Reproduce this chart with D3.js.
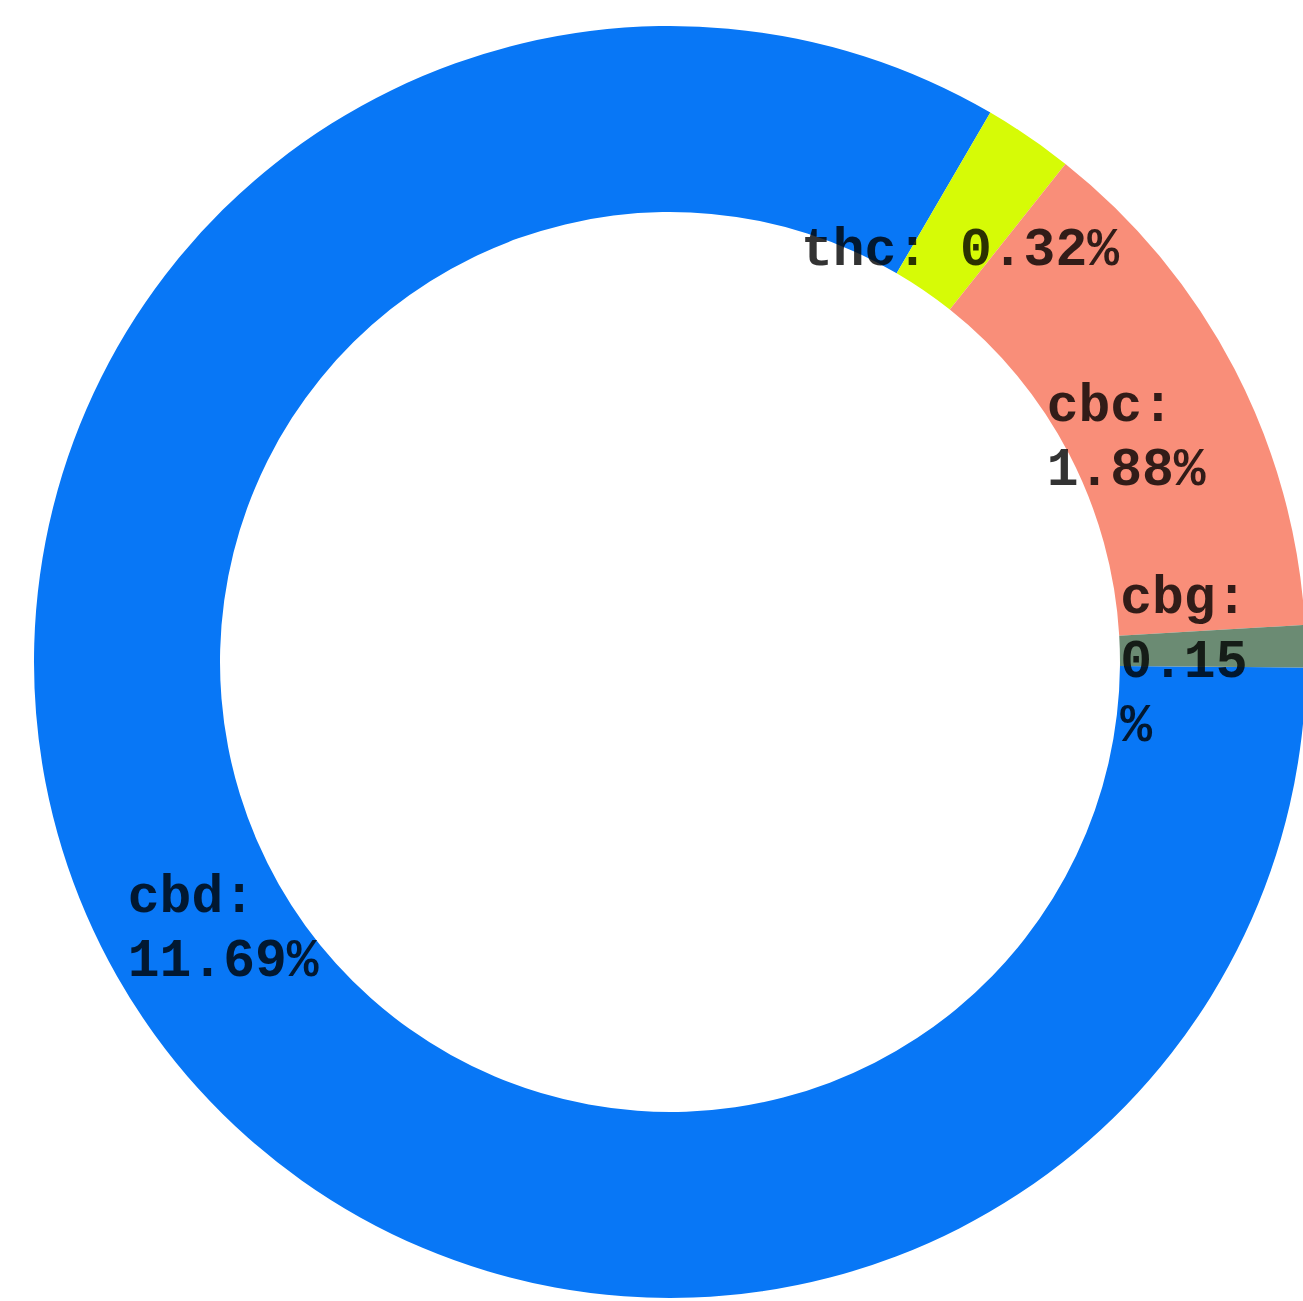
<!DOCTYPE html>
<html>
<head>
<meta charset="utf-8">
<script src="https://cdn.jsdelivr.net/npm/d3@7"></script>
<style>
  html, body { margin: 0; padding: 0; background: #ffffff; }
  svg { display: block; }
</style>
</head>
<body>
<svg id="chart" width="1303" height="1301"></svg>
<script>
// ---- data ----
const categories = ["cbd", "thc", "cbc", "cbg"];
const values = [11.69, 0.32, 1.88, 0.15];
const colors = ["#0877f6", "#d6fb06", "#f98e79", "#6b8b73"];
const wrapChars = [6, 10, 5, 4];

// ---- layout ----
const W = 1303, H = 1301;
const cx = 670, cy = 662;
const outerR = 636, innerR = 450, labelR = 514;
const fontSize = 53, lineH = 64;

const svg = d3.select("#chart");
const g = svg.append("g").attr("transform", `translate(${cx},${cy})`);

const data = categories.map((c, i) => ({ cat: c, value: values[i], color: colors[i], wrap: wrapChars[i] }));

const start = 90.5 * Math.PI / 180;
const pie = d3.pie().value(d => d.value).sort(null)
  .startAngle(start).endAngle(start + 2 * Math.PI);
const arcs = pie(data);

const arc = d3.arc().innerRadius(innerR).outerRadius(outerR);
const labelArc = d3.arc().innerRadius(labelR).outerRadius(labelR);

g.selectAll("path.slice").data(arcs).enter().append("path")
  .attr("class", "slice")
  .attr("d", arc)
  .attr("fill", d => d.data.color);

function wrapText(text, n) {
  const words = text.split(" ");
  const lines = [];
  let cur = "";
  words.forEach(w => {
    const cand = cur ? cur + " " + w : w;
    if (cand.length <= n) { cur = cand; }
    else {
      if (cur) lines.push(cur);
      while (w.length > n) { lines.push(w.slice(0, n)); w = w.slice(n); }
      cur = w;
    }
  });
  if (cur) lines.push(cur);
  return lines;
}

const charW = fontSize * 0.6;
g.selectAll("text.lbl").data(arcs).enter().append("text")
  .attr("class", "lbl")
  .attr("font-family", "'Liberation Mono', 'Courier New', monospace")
  .attr("font-weight", "bold")
  .attr("font-size", fontSize)
  .attr("fill", "#000")
  .attr("fill-opacity", 0.8)
  .each(function(d) {
    const [lx, ly] = labelArc.centroid(d);
    const lines = wrapText(`${d.data.cat}: ${d.data.value}%`, d.data.wrap);
    const maxLen = d3.max(lines, l => l.length);
    const left = lx - maxLen * charW / 2;
    const top = ly - (lines.length - 1) * lineH / 2;
    const t = d3.select(this);
    lines.forEach((l, i) => {
      t.append("tspan")
        .attr("x", left)
        .attr("y", top + i * lineH)
        .attr("dy", "0.52em")
        .text(l);
    });
  });
</script>
</body>
</html>
